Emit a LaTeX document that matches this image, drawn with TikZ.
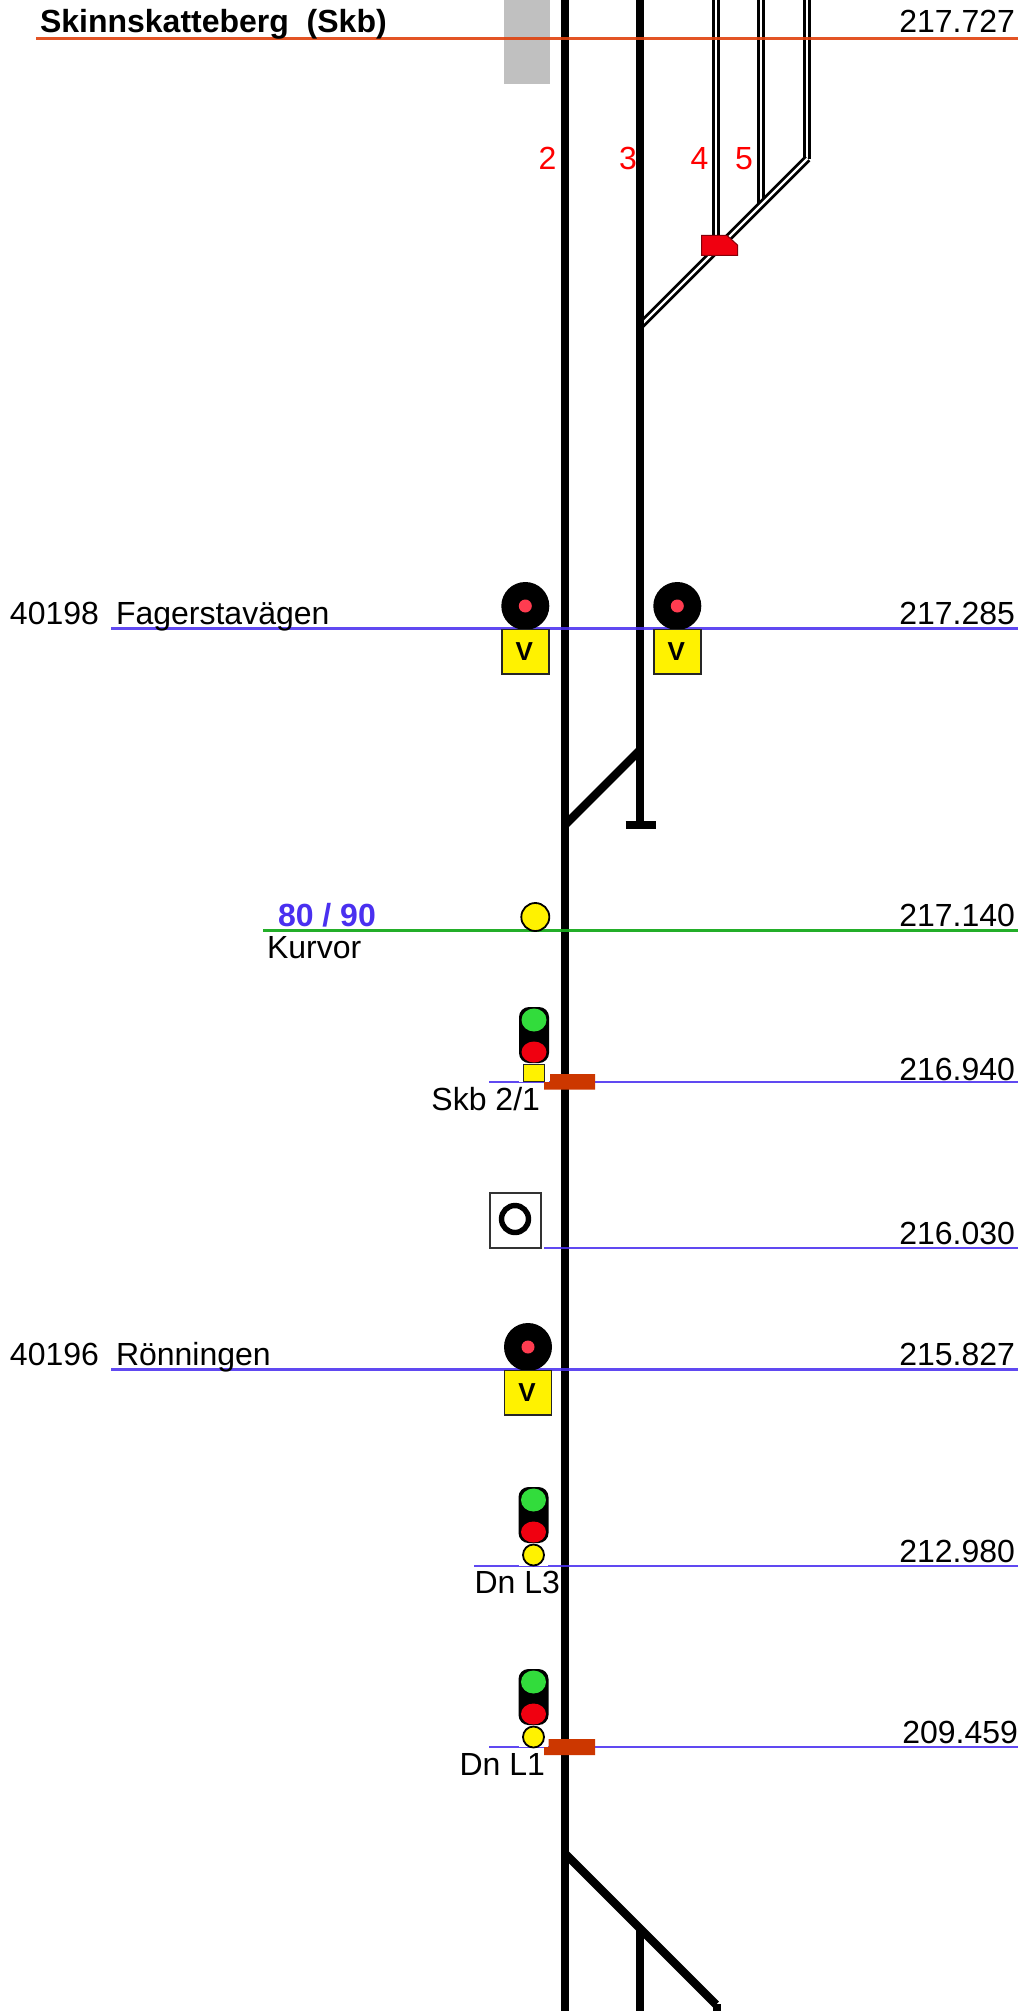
\documentclass[tikz,border=0pt]{standalone}
\usepackage{fontspec}
\setmainfont{Liberation Sans}
\definecolor{bluel}{RGB}{74,48,240}
\definecolor{orangel}{RGB}{224,66,14}
\definecolor{greenl}{RGB}{24,170,30}
\definecolor{barc}{RGB}{204,55,0}
\definecolor{redb}{RGB}{240,0,16}
\definecolor{sgreen}{RGB}{50,220,60}
\definecolor{sdot}{RGB}{255,60,80}
\definecolor{grayb}{RGB}{192,192,192}
\tikzset{
  txt/.style={inner sep=0pt,outer sep=0pt,font=\fontsize{16}{18}\selectfont},
  km/.style={txt,anchor=base east},
  lab/.style={txt,anchor=base west},
  labr/.style={txt,anchor=base east},
  num/.style={txt,anchor=base,text=red},
  track/.style={line width=4.1pt,black},
  dbl/.style={line width=1.4pt,double=white,double distance=1.1pt,black},
  kmblue/.style={bluel,line width=1.2pt,opacity=.88},
  kmorange/.style={orangel,line width=1.2pt,opacity=.9},
  kmgreen/.style={greenl,line width=1.2pt,opacity=.95},
  bar/.style={fill=barc,draw=none},
  pics/stopsig/.style={code={
    \fill[black] (0,0) circle[radius=24];
    \fill[sdot] (0,0) circle[radius=6.5];
    \fill[white] (-24,22.5) rectangle (24,24);
    \draw[line width=.9pt,black!85,fill=yellow] (-23.5,23.5) rectangle (23.5,68);
    \node[inner sep=0pt,font=\fontsize{13}{14}\bfseries\selectfont] at (-1,45.5) {V};
  }},
  pics/head/.style={code={
    \fill[black,rounded corners=5pt] (-15,0) rectangle (15,56);
    \fill[sgreen] (0,13) ellipse[x radius=12.5,y radius=11.5];
    \fill[redb] (0,45) ellipse[x radius=12.5,y radius=10.5];
  }},
  pics/lamp/.style={code={
    \fill[yellow,draw=black,line width=.9pt] (0,0) circle[radius=#1];
  }},
}
\begin{document}
\begin{tikzpicture}[x=0.5pt,y=-0.5pt]
\useasboundingbox[fill=white] (0,0) rectangle (1023,2011);

% platform
\fill[grayb] (504,0) rectangle (550,84);

% yard tracks
\draw[dbl] (716,0) -- (716,236);
\draw[dbl] (761.3,0) -- (761.3,204);
\draw[dbl] (807,0) -- (807,159.5);
\draw[dbl] (807.5,158.5) -- (640,326);

% main tracks
\draw[track] (640,750) -- (565,825);
\draw[track] (565,1853.5) -- (716,2004.5);
\draw[track] (565,0) -- (565,2011);
\draw[track] (640.3,0) -- (640.3,825);
\draw[line width=4pt] (625.7,825) -- (655.7,825);
\draw[track] (640.3,1928) -- (640.3,2011);
\fill[black] (712.5,2004) rectangle (720.5,2011);

% kilometre lines
\draw[kmorange] (36,38.5) -- (1018,38.5);
\draw[kmblue] (111,628.3) -- (1018,628.3);
\draw[kmgreen] (263,930.3) -- (1018,930.3);
\draw[kmblue] (489,1081.7) -- (1018,1081.7);
\draw[kmblue] (544,1248) -- (1018,1248);
\draw[kmblue] (111,1369.3) -- (1018,1369.3);
\draw[kmblue] (474,1565.7) -- (1018,1565.7);
\draw[kmblue] (489,1747) -- (1018,1747);

% switch machine
\fill[redb,draw=redb!55!black,line width=.5pt] (701.5,235.5) -- (727,235.5) -- (737.5,245) -- (737.5,255.5) -- (701.5,255.5) -- cycle;

% speed post
\pic at (535.3,917) {lamp=14};

% stop signals
\pic at (525.3,606) {stopsig};
\pic at (677.3,606) {stopsig};
\pic at (528,1347) {stopsig};

% Skb 2/1
\fill[white] (519,1062) rectangle (549,1081.5);
\pic at (534,1007) {head};
\draw[line width=.9pt,black!85,fill=yellow] (523.5,1064.5) rectangle (544.5,1081.5);
\fill[bar] (550,1074) -- (595,1074) -- (595,1089.5) -- (544,1089.5) -- (544,1082) -- (550,1082) -- cycle;

% board
\draw[line width=.9pt,black!80,fill=white] (490,1193) rectangle (541,1248);
\draw[line width=2.7pt,black] (515,1219) circle[radius=13.5];

% Dn L3
\fill[white] (519,1543) rectangle (548,1565.7);
\pic at (533.5,1487) {head};
\pic at (533.5,1555) {lamp=10.5};

% Dn L1
\fill[white] (519,1725) rectangle (548,1747);
\pic at (533.5,1669) {head};
\pic at (533.5,1737) {lamp=10.5};
\fill[bar] (548.5,1739) -- (595,1739) -- (595,1755) -- (544,1755) -- (544,1747) -- (548.5,1747) -- cycle;

% texts
\node[lab,font=\fontsize{16}{18}\bfseries\selectfont] (stn) at (40,33) {Skinnskatteberg\ \ (Skb)};
\node[km] (k1) at (1015,33) {217.727};
\node[num] (t2) at (547.5,170) {2};
\node[num] (t3) at (628,170) {3};
\node[num] (t4) at (699.5,170) {4};
\node[num] (t5) at (744,170) {5};
\node[lab] (a1) at (10,624) {40198};
\node[lab] (a2) at (116,624) {Fagerstavägen};
\node[km] (k2) at (1015,624) {217.285};
\node[lab,text=bluel,font=\fontsize{16}{18}\bfseries\selectfont] (sp) at (278,926) {80 / 90};
\node[lab] (ku) at (267,958) {Kurvor};
\node[km] (k3) at (1015,926) {217.140};
\node[labr] (sk) at (540,1110) {Skb 2/1};
\node[km] (k4) at (1015,1080) {216.940};
\node[km] (k5) at (1015,1244) {216.030};
\node[lab] (b1) at (10,1365) {40196};
\node[lab] (b2) at (116,1365) {Rönningen};
\node[km] (k6) at (1015,1365) {215.827};
\node[labr] (l3) at (560,1593) {Dn L3};
\node[km] (k7) at (1015,1562) {212.980};
\node[labr] (l1) at (545,1775) {Dn L1};
\node[km] (k8) at (1018,1743) {209.459};
\end{tikzpicture}
\end{document}
